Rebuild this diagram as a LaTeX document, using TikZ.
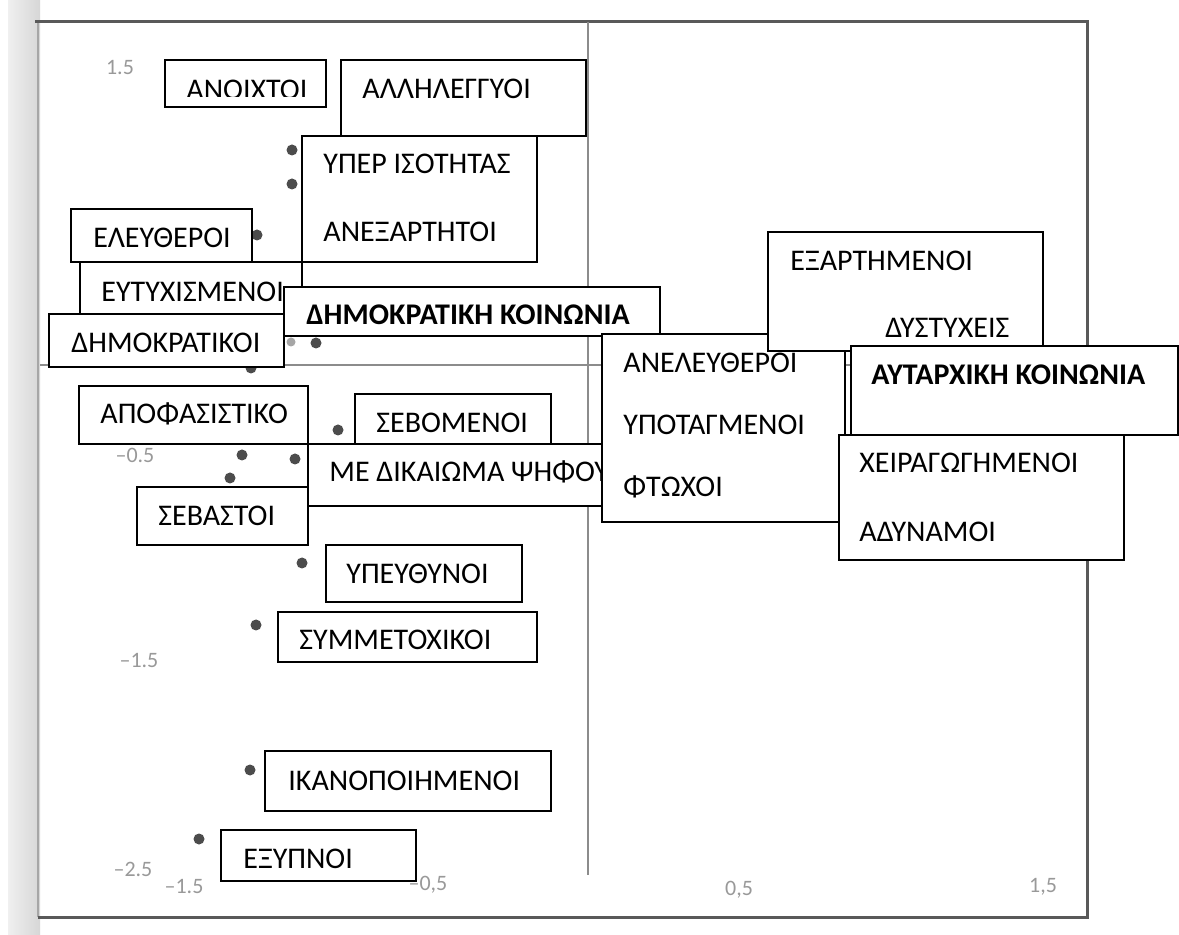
\documentclass[tikz,border=0pt]{standalone}
\usepackage{fontspec}
\setmainfont{Carlito}
\usepackage{tikz}

\begin{document}
\begin{tikzpicture}[x=0.5pt,y=0.5pt]
\tikzstyle{every node}+=[inner sep=0pt]
\tikzstyle{labelbox}=[draw=black, fill=white, line width=1pt]
\tikzstyle{word}=[anchor=base west, font=\fontsize{15}{17}\selectfont]
\tikzstyle{ticklbl}=[font=\fontsize{11}{12}\selectfont, text=black!40]
\tikzstyle{datadot}=[fill=black!70]
\useasboundingbox (0,0) rectangle (1179,-935);
\fill [white] (0,0) rectangle (1179,-935);
% scanned page: edge, frame, axes
\shade [left color=black!6, right color=black!16] (8,0) rectangle (40,-935);
\draw [black!35, line width=1pt] (38,-22) -- (38,-917);
\draw [black!65, line width=1.5pt] (35,-22) -- (1087,-22) -- (1087,-917) -- (38,-917);
\draw [black!45, line width=0.8pt] (40,-365) -- (1087,-365);
\draw [black!45, line width=0.8pt] (588,-22) -- (588,-875);
\draw (120,-68) node [ticklbl] {1.5};
\draw (135,-455) node [ticklbl] {–0.5};
\draw (139,-661) node [ticklbl] {–1.5};
\draw (133,-869) node [ticklbl] {–2.5};
\draw (184,-887) node [ticklbl] {–1.5};
\draw (428,-885) node [ticklbl] {–0,5};
\draw (739,-890) node [ticklbl] {0,5};
\draw (1043,-887) node [ticklbl] {1,5};
% points
\foreach \px/\py in {292/150, 292/184, 257/235, 316/343, 251/368, 338/430, 242/455,
  295/459, 230/478, 302/563, 256/625, 250/770, 199/839}
  \fill [datadot] (\px,-\py) circle (5.5);
\fill [black!35] (291,-342) circle (4.5);
% labels, upper left
\draw [labelbox] (165,-60) rectangle (326,-107);
\begin{scope}
\clip (165,-60) rectangle (326,-97);
\draw (186,-99.5) node (anoixtoi) [word] {ΑΝΟΙΧΤΟΙ};
\end{scope}
\draw [labelbox] (341,-60) rectangle (586,-136);
\draw (362,-99) node (allileggyoi) [word] {ΑΛΛΗΛΕΓΓΥΟΙ};
\draw [labelbox] (302,-136) rectangle (537,-262);
\draw (323,-174) node (isotita) [word] {ΥΠΕΡ ΙΣΟΤΗΤΑΣ};
\draw (323,-242) node (anexartitoi) [word] {ΑΝΕΞΑΡΤΗΤΟΙ};
\draw [labelbox] (80,-262) rectangle (302,-320);
\draw (101,-302) node (eftyxismenoi) [word] {ΕΥΤΥΧΙΣΜΕΝΟΙ};
\draw [labelbox] (71,-209) rectangle (252,-262);
\draw (93,-248) node (eleftheroi) [word] {ΕΛΕΥΘΕΡΟΙ};
\draw [labelbox] (284,-287) rectangle (660,-336);
\draw (306,-325) node (dimkoin) [word, font=\fontsize{15}{17}\selectfont\bfseries] {ΔΗΜΟΚΡΑΤΙΚΗ ΚΟΙΝΩΝΙΑ};
\draw [labelbox] (49,-314) rectangle (284,-367);
\draw (71,-353) node (dimokratikoi) [word] {ΔΗΜΟΚΡΑΤΙΚΟΙ};
% labels, lower left
\draw [labelbox] (79,-386) rectangle (308,-444);
\draw (100,-424) node (apofasistiko) [word] {ΑΠΟΦΑΣΙΣΤΙΚΟ};
\draw [labelbox] (355,-394) rectangle (551,-450);
\draw (376,-433) node (sevomenoi) [word] {ΣΕΒΟΜΕΝΟΙ};
\draw [labelbox] (308,-444) rectangle (620,-506);
\draw (329,-482) node (psifos) [word] {ΜΕ ΔΙΚΑΙΩΜΑ ΨΗΦΟΥ};
\draw [labelbox] (137,-487) rectangle (308,-545);
\draw (158,-526) node (sevastoi) [word] {ΣΕΒΑΣΤΟΙ};
\draw [labelbox] (326,-545) rectangle (522,-602);
\draw (346,-584) node (ypefthynoi) [word] {ΥΠΕΥΘΥΝΟΙ};
\draw [labelbox] (278,-612) rectangle (537,-662);
\draw (299,-650) node (symmetoxikoi) [word] {ΣΥΜΜΕΤΟΧΙΚΟΙ};
\draw [labelbox] (265,-751) rectangle (551,-811);
\draw (288,-790) node (ikanopoiimenoi) [word] {ΙΚΑΝΟΠΟΙΗΜΕΝΟΙ};
\draw [labelbox] (221,-830) rectangle (416,-881);
\draw (243,-868) node (exypnoi) [word] {ΕΞΥΠΝΟΙ};
% labels, right
\draw [labelbox] (602,-334) rectangle (845,-522);
\draw (623,-373) node (aneleftheroi) [word] {ΑΝΕΛΕΥΘΕΡΟΙ};
\draw (623,-435) node (ypotagmenoi) [word] {ΥΠΟΤΑΓΜΕΝΟΙ};
\draw (623,-497) node (ftoxoi) [word] {ΦΤΩΧΟΙ};
\draw [labelbox] (768,-232) rectangle (1043,-351);
\draw (790,-271) node (exartimenoi) [word] {ΕΞΑΡΤΗΜΕΝΟΙ};
\draw (885,-338) node (dystyxeis) [word] {ΔΥΣΤΥΧΕΙΣ};
\draw [labelbox] (851,-346) rectangle (1178,-435);
\draw (871,-385) node (aftkoin) [word, font=\fontsize{15}{17}\selectfont\bfseries] {ΑΥΤΑΡΧΙΚΗ ΚΟΙΝΩΝΙΑ};
\draw [labelbox] (839,-435) rectangle (1124,-560);
\draw (859,-473) node (xeiragogimenoi) [word] {ΧΕΙΡΑΓΩΓΗΜΕΝΟΙ};
\draw (859,-542) node (adynamoi) [word] {ΑΔΥΝΑΜΟΙ};
\end{tikzpicture}
\end{document}
